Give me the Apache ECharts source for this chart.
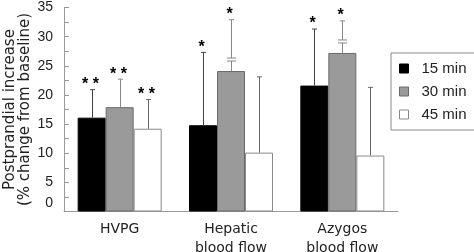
<!DOCTYPE html>
<html>
<head>
<meta charset="utf-8">
<script src="https://cdn.jsdelivr.net/npm/echarts@6/dist/echarts.min.js"></script>
<style>
  html, body { margin: 0; padding: 0; background: #fff; }
  #chart { width: 474px; height: 252px; }
</style>
</head>
<body>
<div id="chart"></div>
<script>
// values
const categories = ['HVPG', 'Hepatic\nblood flow', 'Azygos\nblood flow']
const times = ['15 min', '30 min', '45 min']
const mean15 = [16.1, 14.8, 21.6]
const mean30 = [17.9, 24.1, 27.2]
const mean45 = [14.2, 10.1, 9.6]
const upper15 = [20.9, 27.3, 31.3]
const upper30 = [22.7, 32.9, 32.7]
const upper45 = [19.2, 23.1, 21.3]
const stars15 = ['* *', '*', '*']
const stars30 = ['* *', '*', '*']
const stars45 = ['* *', '', '']
const broken30 = [false, true, true]

const BAR_W = 28
const font = 'DejaVu Sans, sans-serif'
const font2 = 'Liberation Sans, Arial, sans-serif'

let myChart = echarts.init(document.getElementById('chart'))

function errorSeries(k, means, uppers, stars, broken, lineColor) {
  let data = means.map((m, i) => [i, m, uppers[i], stars[i], broken ? (broken[i] ? 1 : 0) : 0])
  return {
    type: 'custom',
    name: 'err' + k,
    z: 5,
    silent: true,
    encode: { x: 0, y: [1, 2] },
    data: data,
    renderItem: (params, api) => {
      let base = api.coord([api.value(0), api.value(1)])
      let top = api.coord([api.value(0), api.value(2)])
      let x = Math.round(base[0] + (k - 1) * BAR_W) + 0.5
      let style = { stroke: lineColor, lineWidth: 1 }
      let children = [
        { type: 'line', shape: { x1: x, y1: base[1], x2: x, y2: top[1] }, style: style },
        { type: 'line', shape: { x1: x - 2.5, y1: top[1], x2: x + 2.5, y2: top[1] }, style: style },
      ]
      if (api.value(4)) {
        let yb = base[1] - 10
        children.push({ type: 'rect', shape: { x: x - 1, y: yb - 3, width: 2, height: 3 }, style: { fill: '#fff' } })
        children.push({ type: 'line', shape: { x1: x - 4.5, y1: yb, x2: x + 4.5, y2: yb }, style: style })
        children.push({ type: 'line', shape: { x1: x - 4.5, y1: yb - 3, x2: x + 4.5, y2: yb - 3 }, style: style })
      }
      let s = data[params.dataIndex][3]
      if (s) {
        children.push({
          type: 'text',
          x: x - 2,
          y: top[1] - 13,
          style: {
            text: s,
            fill: '#000',
            font: 'bold 16px ' + font2,
            align: 'center',
            verticalAlign: 'top',
          },
        })
      }
      return { type: 'group', children: children }
    },
  }
}

let option = {
  animation: false,
  textStyle: { fontFamily: font },
  grid: { left: 64, right: 76, top: 7.5, bottom: 40.5, outerBoundsMode: 'none', containLabel: false },
  legend: {
    orient: 'vertical',
    left: 391,
    top: 53,
    padding: [8, 20, 8, 8],
    itemGap: 8,
    itemWidth: 9,
    itemHeight: 9,
    borderColor: '#8a8a8a',
    borderWidth: 1,
    selectedMode: false,
    textStyle: { fontSize: 15, fontFamily: font2, color: '#222', padding: [0, 0, 0, 8] },
    data: [
      { name: times[0], icon: 'rect', itemStyle: { color: '#000', borderColor: '#000', borderWidth: 1 } },
      { name: times[1], icon: 'rect', itemStyle: { color: '#9a9a9a', borderColor: '#6a6a6a', borderWidth: 1 } },
      { name: times[2], icon: 'rect', itemStyle: { color: '#fff', borderColor: '#8a8a8a', borderWidth: 1 } },
    ],
  },
  xAxis: {
    type: 'category',
    data: categories,
    axisLine: { lineStyle: { color: '#9a9a9a', width: 1 } },
    axisTick: { show: false },
    axisLabel: { fontSize: 14, color: '#222', lineHeight: 19, margin: 8 },
  },
  yAxis: {
    type: 'value',
    min: 0,
    max: 35,
    interval: 5,
    name: 'Postprandial increase\n(% change from baseline)',
    nameLocation: 'middle',
    nameRotate: 90,
    nameGap: 31,
    nameMoveOverlap: false,
    nameTextStyle: { fontSize: 15, color: '#222', lineHeight: 15 },
    axisLine: { show: true, lineStyle: { color: '#9a9a9a' } },
    axisTick: { show: true, inside: true, length: 5, lineStyle: { color: '#9a9a9a' } },
    minorTick: { show: true, splitNumber: 2, length: 5, lineStyle: { color: '#9a9a9a' } },
    splitLine: { show: false },
    axisLabel: {
      fontSize: 14,
      fontFamily: font2,
      color: '#222',
      margin: 11,
      formatter: (v) => (v === 0 ? '{z|0}' : String(v)),
      rich: { z: { fontSize: 14, fontFamily: font2, color: '#222', padding: [0, 0, 16, 0] } },
    },
  },
  series: [
    {
      name: times[0], type: 'bar', data: mean15, barWidth: BAR_W, barGap: '0%',
      itemStyle: { color: '#000', borderColor: '#000', borderWidth: 1 },
    },
    {
      name: times[1], type: 'bar', data: mean30, barWidth: BAR_W, barGap: '0%',
      itemStyle: { color: '#9a9a9a', borderColor: '#6a6a6a', borderWidth: 1 },
    },
    {
      name: times[2], type: 'bar', data: mean45, barWidth: BAR_W, barGap: '0%',
      itemStyle: { color: '#fff', borderColor: '#8a8a8a', borderWidth: 1 },
    },
    errorSeries(0, mean15, upper15, stars15, null, '#444'),
    errorSeries(1, mean30, upper30, stars30, broken30, '#888'),
    errorSeries(2, mean45, upper45, stars45, null, '#666'),
  ],
}
myChart.setOption(option)
window.addEventListener('resize', () => {
  myChart.resize()
})
</script>
</body>
</html>
